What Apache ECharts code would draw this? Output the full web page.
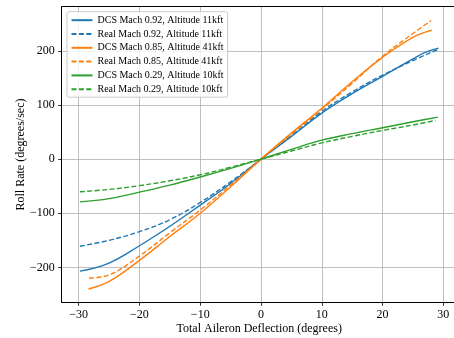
<!DOCTYPE html>
<html>
<head>
<meta charset="utf-8">
<script src="https://cdn.jsdelivr.net/npm/echarts@6/dist/echarts.min.js"></script>
<style>
html,body{margin:0;padding:0;background:#fff;}
#c{width:454px;height:338px;}
</style>
</head>
<body>
<div id="c"></div>
<script>
// ---- data ----
const seriesNames = [
  'DCS Mach 0.92, Altitude 11kft',
  'Real Mach 0.92, Altitude 11kft',
  'DCS Mach 0.85, Altitude 41kft',
  'Real Mach 0.85, Altitude 41kft',
  'DCS Mach 0.29, Altitude 10kft',
  'Real Mach 0.29, Altitude 10kft'
];
const dcs092X = [-29.8,-25,-20,-15,-10,-5,0,5,10,15,20,25,27,29.2];
const dcs092Y = [-207,-192,-160,-124,-85,-45,0,42,85,121,153,185,197,205];
const real092X = [-29.8,-25,-20,-15,-10,-5,0,5,10,15,20,25,29];
const real092Y = [-161,-150,-134,-112,-80,-42,0,43,88,124,155,182,202];
const dcs085X = [-28.4,-25,-20,-15,-10,-5,0,5,10,15,20,25,28.1];
const dcs085Y = [-240,-226,-187,-143,-100,-51,0,48,94,143,188,225,238];
const real085X = [-28.3,-25,-20,-15,-10,-5,0,5,10,15,20,25,28];
const real085Y = [-219.5,-214,-179,-136,-94,-48,0,46,92,140,190,232,256];
const dcs029X = [-29.8,-25,-20,-15,-10,-5,0,5,10,15,20,25,29.1];
const dcs029Y = [-79,-73,-61,-48,-33,-17,0,18,35,47,58,69,77.6];
const real029X = [-29.8,-25,-20,-15,-10,-5,0,5,10,15,20,25,28.7];
const real029Y = [-60.4,-56,-49,-40,-29,-15,0,15,30,42,53,63,71.4];
const xTicks = [-30,-20,-10,0,10,20,30];
const yTicks = [-200,-100,0,100,200];

const xs = [dcs092X, real092X, dcs085X, real085X, dcs029X, real029X];
const ys = [dcs092Y, real092Y, dcs085Y, real085Y, dcs029Y, real029Y];
const colors = ['#1f77b4','#1f77b4','#ff7f0e','#ff7f0e','#2ca02c','#2ca02c'];
const dashed = [false,true,false,true,false,true];

const FONT = '"Liberation Serif","DejaVu Serif",serif';
const fmt = v => String(v).replace('-', '\u2212');
const X_MIN = -32.8, X_MAX = 32.2;

const chart = echarts.init(document.getElementById('c'), null, {renderer:'canvas'});
chart.setOption({
  animation:false,
  backgroundColor:'#fff',
  textStyle:{fontFamily:FONT},
  grid:{left:61.7, top:6.7, right:-2.7, bottom:35.7, show:false, containLabel:false, outerBoundsMode:'none'},
  legend:{
    orient:'vertical', left:67, top:11.7,
    padding:[3.5,4,3,3.5],
    itemWidth:21, itemHeight:10, itemGap:3.8,
    itemStyle:{opacity:0},
    backgroundColor:'rgba(255,255,255,0.8)', borderColor:'#cccccc', borderWidth:1, borderRadius:2,
    textStyle:{fontFamily:FONT, fontSize:10, color:'#000'},
    data:seriesNames
  },
  xAxis:[{
    type:'value', min:X_MIN, max:X_MAX,
    name:'Total Aileron Deflection (degrees)', nameLocation:'middle', nameGap:21, nameMoveOverlap:false,
    nameTextStyle:{fontFamily:FONT, fontSize:12, color:'#000'},
    axisLine:{show:true, onZero:false, lineStyle:{color:'#000', width:1}},
    axisTick:{show:true, inside:false, length:3.5, lineStyle:{color:'#000', width:0.8}, customValues:xTicks},
    axisLabel:{margin:7, fontFamily:FONT, fontSize:12, color:'#000', formatter:fmt, customValues:xTicks},
    splitLine:{show:true, lineStyle:{color:'#b0b0b0', width:0.8}}
  },{
    type:'value', position:'top', min:X_MIN, max:X_MAX,
    axisLine:{show:true, onZero:false, lineStyle:{color:'#000', width:1}},
    axisTick:{show:false}, axisLabel:{show:false}, splitLine:{show:false}
  }],
  yAxis:{
    type:'value', min:-264.5, max:281.5,
    name:'Roll Rate (degrees/sec)', nameLocation:'middle', nameGap:35, nameRotate:90, nameMoveOverlap:false,
    nameTextStyle:{fontFamily:FONT, fontSize:12, color:'#000'},
    axisLine:{show:true, onZero:false, lineStyle:{color:'#000', width:1}},
    axisTick:{show:true, inside:false, length:3.5, lineStyle:{color:'#000', width:0.8}, customValues:yTicks},
    axisLabel:{margin:7, fontFamily:FONT, fontSize:12, color:'#000', formatter:fmt, customValues:yTicks},
    splitLine:{show:true, lineStyle:{color:'#b0b0b0', width:0.8}}
  },
  series: seriesNames.map((n,i)=>({
    name:n, type:'line', symbol:'none', smooth:0.4, xAxisIndex:0,
    color:colors[i],
    lineStyle:{color:colors[i], width:1.4, type: dashed[i] ? [5,2.4] : 'solid'},
    data: xs[i].map((x,j)=>[x, ys[i][j]])
  }))
});
</script>
</body>
</html>
